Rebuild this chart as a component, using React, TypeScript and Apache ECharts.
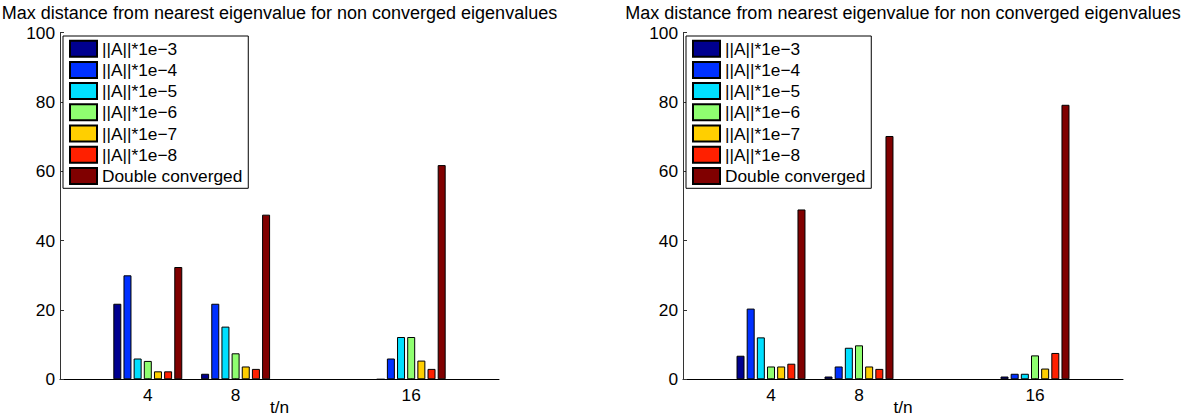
import React, { useEffect, useRef } from "react";
import * as echarts from "echarts";

// t/n positions on the horizontal axis
const tnValues = [4, 8, 16];
const xTicks = [4, 8, 16];
const yTicks = [0, 20, 40, 60, 80, 100];

const seriesNames = [
  "||A||*1e\u22123",
  "||A||*1e\u22124",
  "||A||*1e\u22125",
  "||A||*1e\u22126",
  "||A||*1e\u22127",
  "||A||*1e\u22128",
  "Double converged",
];
const seriesColors = ["#00008F", "#0030FF", "#00DFFF", "#8FFF70", "#FFCF00", "#FF2000", "#800000"];

// Left panel values (per tolerance, at t/n = 4, 8, 16)
const left1e3 = [21.8, 1.6, 0];
const left1e4 = [30.0, 21.8, 6.0];
const left1e5 = [6.0, 15.2, 12.2];
const left1e6 = [5.3, 7.5, 12.2];
const left1e7 = [2.3, 3.7, 5.4];
const left1e8 = [2.3, 3.0, 3.0];
const leftDouble = [32.4, 47.5, 61.8];

// Right panel values
const right1e3 = [6.8, 0.8, 0.8];
const right1e4 = [20.4, 3.7, 1.6];
const right1e5 = [12.1, 9.1, 1.6];
const right1e6 = [3.7, 9.8, 6.9];
const right1e7 = [3.7, 3.7, 3.1];
const right1e8 = [4.5, 3.0, 7.6];
const rightDouble = [49.0, 70.2, 79.2];

const leftSets = [left1e3, left1e4, left1e5, left1e6, left1e7, left1e8, leftDouble];
const rightSets = [right1e3, right1e4, right1e5, right1e6, right1e7, right1e8, rightDouble];

const titleText = "Max distance from nearest eigenvalue for non converged eigenvalues";
const xName = "t/n";

const FONT = "'Liberation Sans', Arial, Helvetica, sans-serif";
const FS = 17.3;

export default function App() {
  const ref = useRef<HTMLDivElement>(null);

  useEffect(() => {
    if (!ref.current) return;
    const chart = echarts.init(ref.current, undefined, { renderer: "svg" });

    const panels = [
      { left: 60, width: 439, sets: leftSets, center: 279.5, legendLeft: 63 },
      { left: 683, width: 440, sets: rightSets, center: 903, legendLeft: 686 },
    ];

    const grids = panels.map((p) => ({
      left: p.left,
      width: p.width,
      top: 32.7,
      bottom: 38.7,
      containLabel: false,
      outerBoundsMode: "none",
    }));

    const xAxes = panels.map((_, i) => ({
      type: "value",
      gridIndex: i,
      min: 0,
      max: 20,
      name: xName,
      nameLocation: "middle",
      nameGap: 20.5,
      nameMoveOverlap: false,
      nameTextStyle: { fontFamily: FONT, fontSize: FS, lineHeight: 14, color: "#000" },
      axisLine: { show: true, onZero: false, lineStyle: { color: "#000", width: 1 } },
      axisTick: { show: true, inside: true, length: 4, customValues: xTicks, lineStyle: { color: "#000" } },
      axisLabel: {
        show: true,
        customValues: xTicks,
        margin: 7,
        fontFamily: FONT,
        fontSize: FS,
        color: "#000",
      },
      splitLine: { show: false },
    }));

    const yAxes = panels.map((_, i) => ({
      type: "value",
      gridIndex: i,
      min: 0,
      max: 100,
      interval: 20,
      axisLine: { show: true, lineStyle: { color: "#333", width: 1 } },
      axisTick: { show: true, inside: true, length: 4, customValues: yTicks, lineStyle: { color: "#333" } },
      axisLabel: {
        show: true,
        customValues: yTicks,
        margin: 5,
        fontFamily: FONT,
        fontSize: FS,
        color: "#000",
      },
      splitLine: { show: false },
    }));

    const series: any[] = [];
    panels.forEach((p, pi) => {
      p.sets.forEach((vals, si) => {
        series.push({
          type: "bar",
          name: seriesNames[si],
          xAxisIndex: pi,
          yAxisIndex: pi,
          barWidth: 8,
          barGap: "27%",
          data: tnValues.map((t, k) => [t, vals[k]]),
          itemStyle: { color: seriesColors[si], borderColor: "#000", borderWidth: 1 },
          emphasis: { disabled: true },
        });
      });
    });

    const titles = panels.map((p) => ({
      text: titleText,
      left: p.center,
      top: 4,
      padding: 0,
      textAlign: "center",
      textStyle: { fontFamily: FONT, fontSize: 18, fontWeight: "normal", color: "#000" },
    }));

    const legends = panels.map((p) => ({
      data: seriesNames,
      orient: "vertical",
      left: p.legendLeft,
      top: 36,
      icon: "rect",
      itemWidth: 27,
      itemHeight: 16,
      itemGap: 3.2,
      padding: [3.7, 6, 3.4, 6],
      borderColor: "#000",
      borderWidth: 1,
      backgroundColor: "#fff",
      selectedMode: false,
      textStyle: { fontFamily: FONT, fontSize: FS, lineHeight: 16, color: "#000" },
    }));

    chart.setOption({
      animation: false,
      backgroundColor: "#fff",
      title: titles,
      legend: legends,
      grid: grids,
      xAxis: xAxes,
      yAxis: yAxes,
      series,
    });

    return () => chart.dispose();
  }, []);

  return (
    <div
      ref={ref}
      style={{ position: "fixed", left: 0, top: 0, width: 1185, height: 418, background: "#fff" }}
    />
  );
}
